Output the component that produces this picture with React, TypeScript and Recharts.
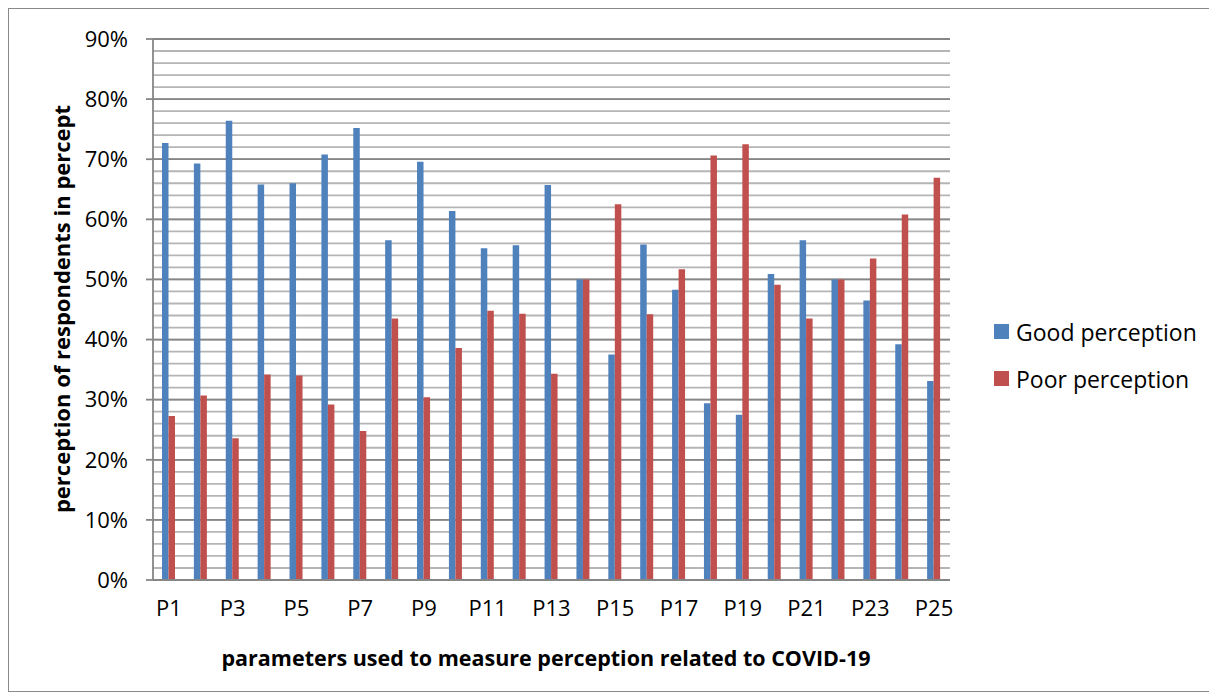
import React from 'react'
import { BarChart, Bar, XAxis, YAxis, CartesianGrid } from 'recharts'

const FONT = "'Open Sans', 'Noto Sans', sans-serif"

// parameters P1..P25
const categories = [
  'P1', 'P2', 'P3', 'P4', 'P5', 'P6', 'P7', 'P8', 'P9', 'P10',
  'P11', 'P12', 'P13', 'P14', 'P15', 'P16', 'P17', 'P18', 'P19', 'P20',
  'P21', 'P22', 'P23', 'P24', 'P25',
]
const goodPerception = [
  72.7, 69.3, 76.4, 65.8, 66.0, 70.8, 75.2, 56.5, 69.6, 61.4,
  55.2, 55.7, 65.7, 50.0, 37.5, 55.8, 48.3, 29.4, 27.5, 50.9,
  56.5, 50.0, 46.5, 39.2, 33.1,
]
const poorPerception = [
  27.3, 30.7, 23.6, 34.2, 34.0, 29.2, 24.8, 43.5, 30.4, 38.6,
  44.8, 44.3, 34.3, 50.0, 62.5, 44.2, 51.7, 70.6, 72.5, 49.1,
  43.5, 50.0, 53.5, 60.8, 66.9,
]
const majorTicks = [0, 10, 20, 30, 40, 50, 60, 70, 80, 90]
const minorTicks = [
  0, 2, 4, 6, 8, 10, 12, 14, 16, 18, 20, 22, 24, 26, 28, 30, 32, 34, 36, 38, 40,
  42, 44, 46, 48, 50, 52, 54, 56, 58, 60, 62, 64, 66, 68, 70, 72, 74, 76, 78, 80,
  82, 84, 86, 88, 90,
]

const series = [
  { key: 'good', name: 'Good perception', color: '#4F81BD' },
  { key: 'poor', name: 'Poor perception', color: '#C0504D' },
]

const data = categories.map((c, i) => ({
  name: c,
  good: goodPerception[i],
  poor: poorPerception[i],
}))

export default function App() {
  return (
    <div style={{ position: 'relative', width: 1202, height: 684, border: '1px solid #898989', boxSizing: 'border-box', background: '#fff' }}>
      <BarChart
        width={1200}
        height={682}
        data={data}
        margin={{ top: 30, right: 259, bottom: 81, left: 0 }}
        barGap={0}
        barSize={6.5}
      >
        {/* minor gridlines every 2%, then major every 10% */}
        <CartesianGrid vertical={false} stroke="#b5b5b5" strokeWidth={1.8} horizontalValues={minorTicks} />
        <CartesianGrid vertical={false} stroke="#868686" strokeWidth={1.8} horizontalValues={majorTicks} />
        <XAxis
          dataKey="name"
          interval={1}
          height={30}
          tickLine={false}
          tickSize={0}
          tickMargin={20}
          axisLine={{ stroke: '#868686', strokeWidth: 1.8 }}
          tick={{ fill: '#000', fontSize: 22, fontFamily: FONT }}
          label={{
            content: () => (
              <text x={537} y={657} textAnchor="middle" fontFamily={FONT} fontSize={21.5} fontWeight={700} fill="#000">
                parameters used to measure perception related to COVID-19
              </text>
            ),
          }}
        />
        <YAxis
          domain={[0, 90]}
          ticks={majorTicks}
          interval={0}
          width={144}
          tickSize={7}
          tickMargin={18}
          tickFormatter={v => `${v}%`}
          tickLine={{ stroke: '#868686', strokeWidth: 1.8 }}
          axisLine={{ stroke: '#868686', strokeWidth: 1.8 }}
          tick={{ fill: '#000', fontSize: 22, fontFamily: FONT }}
          label={{
            content: () => (
              <text x={53} y={300} transform="rotate(-90, 53, 300)" dy="0.35em" textAnchor="middle" fontFamily={FONT} fontSize={22} fontWeight={700} fill="#000">
                perception of respondents in percept
              </text>
            ),
          }}
        />
        {series.map(s => (
          <Bar key={s.key} dataKey={s.key} name={s.name} fill={s.color} isAnimationActive={false} />
        ))}
      </BarChart>

      {/* legend */}
      <div style={{ position: 'absolute', left: 985, top: 299, fontFamily: FONT, fontSize: 23, color: '#000' }}>
        {series.map(s => (
          <div key={s.key} style={{ height: 47, display: 'flex', alignItems: 'center' }}>
            <span style={{ width: 15, height: 15, background: s.color, display: 'inline-block', marginRight: 7 }} />
            <span>{s.name}</span>
          </div>
        ))}
      </div>
    </div>
  )
}
